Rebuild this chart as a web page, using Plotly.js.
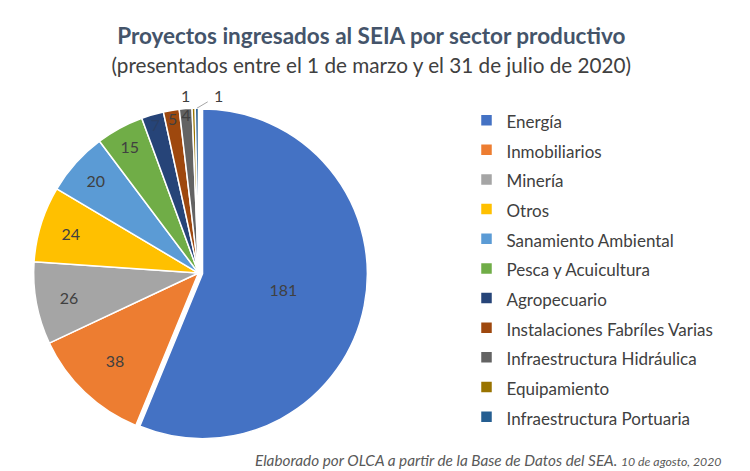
<!DOCTYPE html>
<html>
<head>
<meta charset="utf-8">
<script src="https://cdn.plot.ly/plotly-3.0.1.min.js"></script>
<style>html,body{margin:0;padding:0;background:#fff;}#chart{width:750px;height:471px;}</style>
</head>
<body>
<div id="chart"></div>
<script>
const sectors = ["Energía","Inmobiliarios","Minería","Otros","Sanamiento Ambiental","Pesca y Acuicultura","Agropecuario","Instalaciones Fabríles Varias","Infraestructura Hidráulica","Equipamiento","Infraestructura Portuaria"];
const projects = [181, 38, 26, 24, 20, 15, 7, 5, 4, 1, 1];
const sliceColors = ["#4472C4","#ED7D31","#A5A5A5","#FFC000","#5B9BD5","#70AD47","#264478","#9E480E","#636363","#997300","#255E91"];
const labelPositions = ["inside","inside","inside","inside","inside","inside","inside","inside","inside","none","none"];
const labelColors = ["#404040","#404040","#404040","#404040","#404040","#404040","#2a3f66","#404040","#404040","#404040","#404040"];
const pulls = [0.025,0,0,0,0,0,0,0,0,0,0];

const W = 750, H = 471;
const domX = [0.0393, 0.490], domY = [0.0616, 0.779];

const legendLabels = sectors.map(s => '<span style="font-size:17px">' + s + '</span>');

const trace = {
  type: "pie",
  labels: legendLabels,
  values: projects,
  sort: false,
  direction: "clockwise",
  rotation: 0,
  pull: pulls,
  marker: {colors: sliceColors, line: {color: "#ffffff", width: 1.5}},
  textinfo: "value",
  textposition: labelPositions,
  insidetextorientation: "horizontal",
  textfont: {family: "Lato, sans-serif", size: 16, color: labelColors},
  domain: {x: domX, y: domY},
  hoverinfo: "label+value"
};

// outside labels for the tiny slices, placed from the pie geometry computed from the data
const total = projects.reduce((a, b) => a + b, 0);
const maxPull = Math.max(...pulls);
const cxPx = (domX[0] + domX[1]) / 2 * W;
const cyPx = (1 - (domY[0] + domY[1]) / 2) * H;
const R = Math.min((domX[1] - domX[0]) * W, (domY[1] - domY[0]) * H) / 2 / (1 + maxPull);
const annotations = [];
let cum = 0;
projects.forEach((v, i) => {
  const mid = 2 * Math.PI * (cum + v / 2) / total;
  cum += v;
  if (labelPositions[i] !== "none") return;
  const px = cxPx + R * Math.sin(mid);
  const py = cyPx - R * Math.cos(mid);
  const lastOne = i === projects.length - 1;
  annotations.push({
    text: String(v), xref: "paper", yref: "paper",
    x: px / W, y: 1 - py / H,
    showarrow: true, arrowhead: 0, arrowwidth: 1, arrowcolor: lastOne ? "#A6A6A6" : "rgba(0,0,0,0)",
    ax: lastOne ? 22 : -8, ay: -13, standoff: 0, startstandoff: lastOne ? 6 : 0,
    font: {family: "Lato, sans-serif", size: 16, color: "#404040"}
  });
});
annotations.push({
  text: '<i>Elaborado por OLCA a partir de la Base de Datos del SEA. <span style="font-size:12.3px">10 de agosto, 2020</span></i>',
  xref: "paper", yref: "paper", x: 0.965, y: 0.0, xanchor: "right", yanchor: "bottom",
  showarrow: false, font: {family: "Lato, sans-serif", size: 15.3, color: "#595959"}
});

const layout = {
  width: W, height: H,
  margin: {l: 0, r: 0, t: 0, b: 0},
  paper_bgcolor: "#ffffff",
  font: {family: "Lato, sans-serif", color: "#404040"},
  uniformtext: {mode: "show", minsize: 15},
  title: {
    text: '<b>Proyectos ingresados al SEIA por sector productivo</b><br><span style="font-size:20.7px;color:#404040">(presentados entre el 1 de marzo y el 31 de julio de 2020)</span>',
    font: {family: "Lato, sans-serif", size: 22.5, color: "#44546A"},
    x: 0.495, xanchor: "center", y: 0.907, yanchor: "top"
  },
  showlegend: true,
  legend: {
    x: 0.622, xanchor: "left", y: 0.787, yanchor: "top",
    font: {family: "Lato, sans-serif", size: 20.5, color: "#404040"},
    bgcolor: "rgba(0,0,0,0)",
    itemclick: false
  },
  annotations: annotations
};

Plotly.newPlot("chart", [trace], layout, {displayModeBar: false, staticPlot: true});
</script>
</body>
</html>
